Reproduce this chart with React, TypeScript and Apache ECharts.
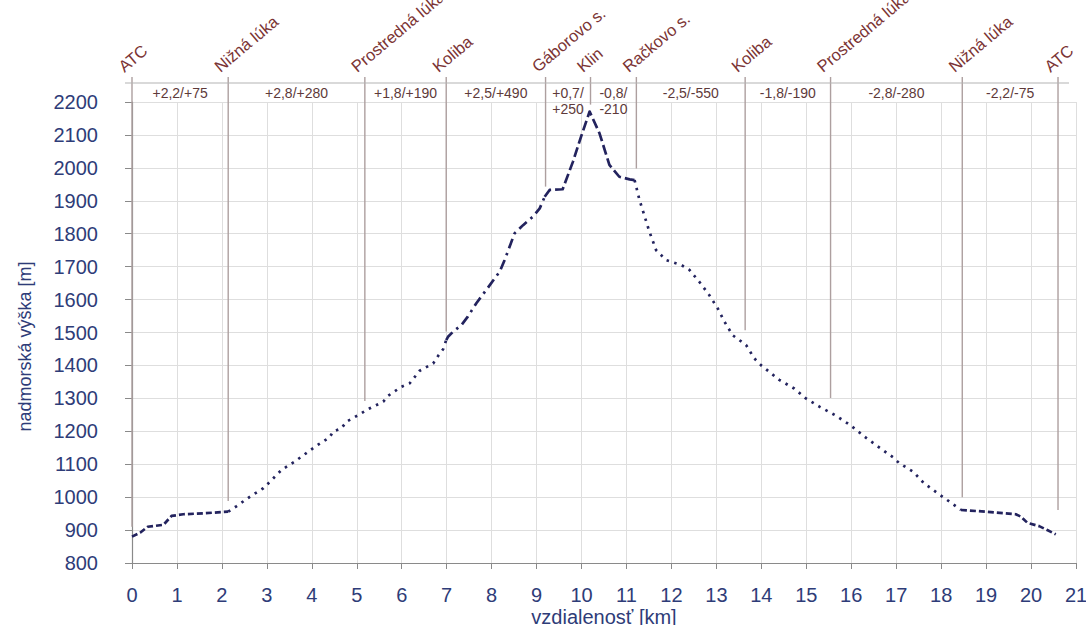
import React, { useEffect, useRef } from "react";
import * as echarts from "echarts";

// ---- data ----
const xTicks = [0, 21];
const yRange = [800, 2200];

const stationNames = [
  "ATC", "Nižná lúka", "Prostredná lúka", "Koliba", "Gáborovo s.", "Klin",
  "Račkovo s.", "Koliba", "Prostredná lúka", "Nižná lúka", "ATC",
];
const stationKm = [0, 2.14, 5.18, 6.99, 9.2, 10.2, 11.22, 13.64, 15.54, 18.47, 20.6];
const stationLineEnd = [910, 988, 1292, 1503, 1943, 2192, 1998, 1507, 1301, 1000, 961];

const segmentLabels = [
  "+2,2/+75", "+2,8/+280", "+1,8/+190", "+2,5/+490", "+0,7/\n+250",
  "-0,8/\n-210", "-2,5/-550", "-1,8/-190", "-2,8/-280", "-2,2/-75",
];

const profileKm = [
  0, 0.18, 0.35, 0.7, 0.88, 1.14, 1.6, 2.14,
  2.33, 2.62, 2.92, 3.07, 3.33, 3.62, 3.92, 4.07, 4.4, 4.47, 4.66, 4.77, 5.07, 5.25, 5.59, 5.7, 5.99, 6.18, 6.4, 6.7, 6.81, 6.92, 6.99,
  7.03, 7.14, 7.33, 7.47, 7.66, 7.88, 8.18, 8.29, 8.51, 8.7, 8.92, 9.07, 9.18,
  9.29, 9.58, 9.81, 9.99, 10.18, 10.4, 10.62, 10.84, 11.07, 11.18,
  11.29, 11.36, 11.51, 11.66, 11.88, 12.22, 12.4, 12.62, 12.84, 13.03, 13.18, 13.36, 13.66, 13.84, 13.99, 14.4, 14.73, 14.99, 15.29, 15.64, 15.92, 16.07, 16.34, 16.62, 16.93, 17.07, 17.38, 17.62, 17.92, 18.22, 18.44,
  18.99, 19.66, 19.77, 19.92, 20.18, 20.36, 20.55,
];
const profileElev = [
  880, 892, 910, 916, 943, 948, 951, 956,
  973, 1001, 1027, 1047, 1083, 1108, 1138, 1153, 1182, 1199, 1209, 1229, 1252, 1267, 1290, 1308, 1335, 1346, 1384, 1406, 1429, 1449, 1477,
  1487, 1502, 1523, 1548, 1589, 1629, 1685, 1720, 1801, 1826, 1852, 1877, 1912,
  1933, 1935, 2019, 2095, 2171, 2105, 2009, 1973, 1965, 1963,
  1902, 1872, 1806, 1750, 1720, 1705, 1690, 1654, 1614, 1573, 1533, 1492, 1462, 1422, 1401, 1356, 1330, 1300, 1275, 1249, 1224, 1209, 1179, 1151, 1121, 1103, 1077, 1042, 1012, 983, 961,
  956, 948, 941, 922, 912, 900, 887,
];
// km where the line style changes
const styleBreaks = [0, 2.14, 6.99, 9.18, 11.18, 18.44, 20.55];

// ---- styles ----
const FONT = '"Liberation Sans", Arial, sans-serif';
const AXIS_TEXT = "#2e3c78";
const LINE_COLOR = "#23235e";
const dashPatterns: number[][] = [
  [6, 3],
  [2.5, 5.5],
  [10, 5, 2.5, 5],
  [10, 4],
  [2.5, 5.5],
  [6, 3],
];

export default function App() {
  const ref = useRef<HTMLDivElement>(null);
  useEffect(() => {
    if (!ref.current) return;
    const chart = echarts.init(ref.current, undefined, { renderer: "svg" });

    const profileSeries = dashPatterns.map((dash, s) => {
      const a = styleBreaks[s];
      const b = styleBreaks[s + 1];
      const pts: number[][] = [];
      profileKm.forEach((k, i) => {
        if (k >= a - 1e-9 && k <= b + 1e-9) pts.push([k, profileElev[i]]);
      });
      return {
        type: "line",
        data: pts,
        showSymbol: false,
        symbol: "none",
        silent: true,
        z: 5,
        lineStyle: { color: LINE_COLOR, width: 2.7, type: dash, cap: "butt", join: "round" },
      };
    });

    const stationSeries = {
      type: "custom",
      coordinateSystem: "cartesian2d",
      clip: false,
      silent: true,
      z: 3,
      data: stationKm.map((k, i) => [k, stationLineEnd[i]]),
      renderItem: (params: any, api: any) => {
        const i = params.dataIndex;
        const km = api.value(0);
        const bottom = api.coord([km, api.value(1)]);
        const top = api.coord([km, yRange[1]]);
        return {
          type: "group",
          children: [
            {
              type: "line",
              shape: { x1: bottom[0], y1: bottom[1], x2: bottom[0], y2: top[1] - 25 },
              style: { stroke: "#ad9f9f", lineWidth: 1.4 },
            },
            {
              type: "text",
              x: bottom[0] - 6,
              y: top[1] - 27,
              rotation: (40 * Math.PI) / 180,
              style: {
                text: stationNames[i],
                fill: "#7b3434",
                fontSize: 16.5,
                fontFamily: FONT,
                align: "left",
                verticalAlign: "bottom",
              },
            },
          ],
        };
      },
    };

    const segmentSeries = {
      type: "custom",
      coordinateSystem: "cartesian2d",
      clip: false,
      silent: true,
      z: 3,
      data: segmentLabels.map((_, i) => [(stationKm[i] + stationKm[i + 1]) / 2, yRange[1]]),
      renderItem: (params: any, api: any) => {
        const p = api.coord([api.value(0), api.value(1)]);
        return {
          type: "text",
          x: p[0],
          y: p[1] - 17,
          style: {
            text: segmentLabels[params.dataIndex],
            fill: "#5e3a3a",
            fontSize: 14,
            fontFamily: FONT,
            align: "center",
            verticalAlign: "top",
            lineHeight: 16,
          },
        };
      },
    };

    const topLineSeries = {
      type: "custom",
      coordinateSystem: "cartesian2d",
      clip: false,
      silent: true,
      z: 3,
      data: [[xTicks[0], xTicks[1], yRange[1]]],
      renderItem: (_params: any, api: any) => {
        const a = api.coord([api.value(0), api.value(2)]);
        const b = api.coord([api.value(1), api.value(2)]);
        return {
          type: "line",
          shape: { x1: a[0] - 7, y1: a[1] - 19, x2: b[0] - 7, y2: b[1] - 19 },
          style: { stroke: "#b3b3b3", lineWidth: 1.2 },
        };
      },
    };

    chart.setOption({
      animation: false,
      backgroundColor: "#ffffff",
      grid: { left: 132, right: 10, top: 102, bottom: 62, containLabel: false, outerBoundsMode: "none" },
      xAxis: {
        type: "value",
        min: xTicks[0],
        max: xTicks[1],
        interval: 1,
        name: "vzdialenosť [km]",
        nameLocation: "middle",
        nameGap: 44,
        nameMoveOverlap: false,
        nameTextStyle: { color: AXIS_TEXT, fontSize: 20, fontFamily: FONT },
        axisLine: { show: true, lineStyle: { color: "#8a8a8a", width: 1.2 } },
        axisTick: { show: true, length: 6, lineStyle: { color: "#8a8a8a" } },
        axisLabel: { color: AXIS_TEXT, fontSize: 20, fontFamily: FONT, margin: 22 },
        splitLine: { show: true, lineStyle: { color: "#dedede", width: 1 } },
      },
      yAxis: {
        type: "value",
        min: yRange[0],
        max: yRange[1],
        interval: 100,
        offset: 12,
        name: "nadmorská výška [m]",
        nameLocation: "middle",
        nameGap: 86,
        nameMoveOverlap: false,
        nameTextStyle: { color: AXIS_TEXT, fontSize: 18, fontFamily: FONT, padding: [0, 28, 0, 0] },
        axisLine: { show: true, lineStyle: { color: "#8a8a8a", width: 1.2 } },
        axisTick: { show: true, length: 7, lineStyle: { color: "#8a8a8a" } },
        axisLabel: {
          color: AXIS_TEXT,
          fontSize: 20,
          fontFamily: FONT,
          margin: 22,
          formatter: (v: number) => String(v),
        },
        splitLine: { show: true, lineStyle: { color: "#dedede", width: 1 } },
      },
      series: [...profileSeries, stationSeries, segmentSeries, topLineSeries],
    });
    return () => chart.dispose();
  }, []);
  return (
    <div
      ref={ref}
      style={{ position: "fixed", left: 0, top: 0, width: 1086, height: 625, background: "#fff" }}
    />
  );
}
